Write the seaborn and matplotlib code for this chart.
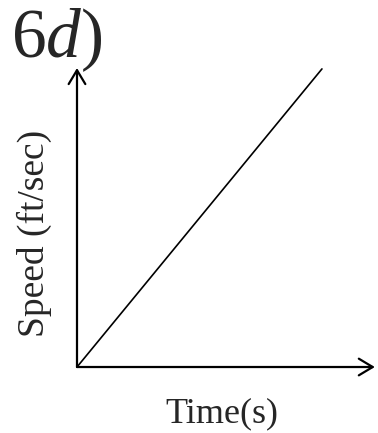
import pandas as pd
import seaborn as sns
import matplotlib
matplotlib.use("Agg")
import matplotlib.pyplot as plt

# data: speed rising linearly with time
time_s = [0, 10]
speed = [0, 10]

panel_label = "6$d$)"
x_label = "Time(s)"
y_label = "Speed (ft/sec)"

df = pd.DataFrame({"time": time_s, "speed": speed})

sns.set_style("white")
plt.rcParams["font.family"] = ["Liberation Serif", "DejaVu Serif"]
plt.rcParams["mathtext.fontset"] = "custom"
plt.rcParams["mathtext.rm"] = "Liberation Serif"
plt.rcParams["mathtext.it"] = "Liberation Serif:italic"

fig = plt.figure(figsize=(3.78, 4.33), dpi=100)
ax = fig.add_axes([0.2037, 0.1524, 0.788, 0.6905])

sns.lineplot(data=df, x="time", y="speed", color="black", linewidth=1.2, ax=ax)

ax.set_xlim(0, 12.16)
ax.set_ylim(0, 10.03)
ax.set_xticks([])
ax.set_yticks([])
ax.set_xlabel("")
ax.set_ylabel("")
for s in ax.spines.values():
    s.set_visible(False)

# axes with open arrowheads
arrow_kw = dict(arrowstyle="->,head_length=0.5,head_width=0.3", color="black",
                lw=1.6, shrinkA=0, shrinkB=0, mutation_scale=20)
ax.annotate("", xy=(1, 0), xytext=(0, 0), xycoords="axes fraction",
            arrowprops=arrow_kw, annotation_clip=False)
ax.annotate("", xy=(0, 1), xytext=(0, 0), xycoords="axes fraction",
            arrowprops=arrow_kw, annotation_clip=False)

fig.text(0.587, 0.044, x_label, ha="center", va="center", fontsize=26)
fig.text(0.09, 0.46, y_label, ha="center", va="center", rotation=90, fontsize=27)
fig.text(0.028, 1 - 57 / 433, panel_label, ha="left", va="baseline", fontsize=50)

plt.savefig("out.png", dpi=100)
plt.close(fig)
